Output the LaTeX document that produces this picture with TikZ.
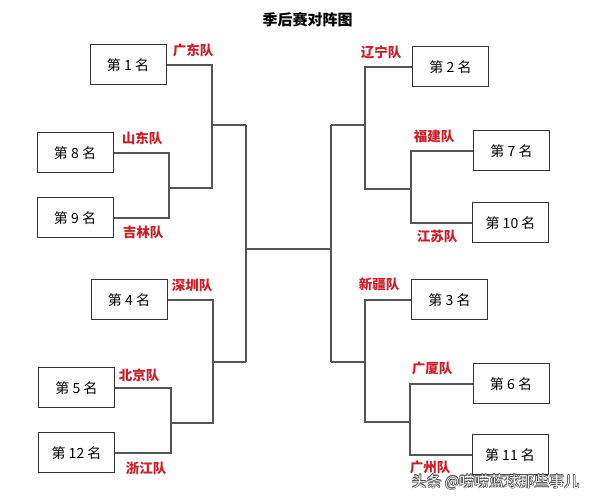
\documentclass[tikz,border=0pt]{standalone}
\usepackage{fontspec}
\setmainfont{Noto Sans CJK SC}
\definecolor{teamred}{RGB}{205,30,40}
\definecolor{linegray}{RGB}{85,85,85}
\definecolor{boxline}{RGB}{50,50,50}
\newcommand\wmtxt{头条 @唠唠蓝球那些事儿}
\newcommand\wmcopy[2]{\rlap{\kern#1pt\raisebox{#2pt}{\textcolor{black!70}{\wmtxt}}}}
\tikzset{
  rankbox/.style={draw=boxline, line width=1pt, fill=white, minimum width=76pt, minimum height=40pt, inner sep=0pt, font=\fontsize{14}{16}\selectfont},
  team/.style={text=teamred, font=\bfseries\fontsize{13.5}{15}\selectfont, inner sep=0pt},
  conn/.style={draw=linegray, line width=1.2pt},
  wm/.style={font=\fontsize{15}{17}\selectfont, inner sep=0pt}
}
\begin{document}
\begin{tikzpicture}[x=1pt,y=-1pt]
\useasboundingbox (0,0) rectangle (592,502);
% title
\node[font=\bfseries\fontsize{15}{17}\selectfont, inner sep=0pt] (title) at (307.5,20) {季后赛对阵图};
% boxes left
\node[rankbox] (b1) at (128,65) {第 1 名};
\node[rankbox] (b8) at (75,153) {第 8 名};
\node[rankbox] (b9) at (75,218) {第 9 名};
\node[rankbox] (b4) at (129,300) {第 4 名};
\node[rankbox] (b5) at (76.5,388) {第 5 名};
\node[rankbox] (b12) at (76.5,453) {第 12 名};
% boxes right
\node[rankbox] (b2) at (450.5,67) {第 2 名};
\node[rankbox] (b7) at (511.5,151) {第 7 名};
\node[rankbox] (b10) at (510.5,223) {第 10 名};
\node[rankbox] (b3) at (449.5,300) {第 3 名};
\node[rankbox] (b6) at (511,384) {第 6 名};
\node[rankbox] (b11) at (510,455) {第 11 名};
% team labels
\node[team] (l1) at (193,50) {广东队};
\node[team] (l8) at (142,138) {山东队};
\node[team] (l9) at (143,232) {吉林队};
\node[team] (l4) at (192,285) {深圳队};
\node[team] (l5) at (139,375) {北京队};
\node[team] (l12) at (146,468) {浙江队};
\node[team] (l2) at (381,52) {辽宁队};
\node[team] (l7) at (434,136) {福建队};
\node[team] (l10) at (437,236) {江苏队};
\node[team] (l3) at (379,284) {新疆队};
\node[team] (l6) at (432,368) {广厦队};
\node[team] (l11) at (430,467) {广州队};
% junction coordinates
\coordinate (m89) at (169,188);
\coordinate (q1) at (212,188);
\coordinate (t1) at (212,125);
\coordinate (m512) at (171,423);
\coordinate (q4) at (213,423);
\coordinate (t4) at (213,362);
\coordinate (La) at (246,125);
\coordinate (Lb) at (246,362);
\coordinate (Lm) at (246,249);
\coordinate (Rm) at (331,249);
\coordinate (Ra) at (331,125);
\coordinate (Rb) at (331,362);
\coordinate (s2) at (365,125);
\coordinate (q2) at (365,189);
\coordinate (m710) at (411,189);
\coordinate (s3) at (365,362);
\coordinate (q3) at (365,422);
\coordinate (m611) at (410,422);
% connectors left
\draw[conn] (b8.east) -| (m89) |- (b9.east);
\draw[conn] (b1.east) -| (q1) -- (m89);
\draw[conn] (t1) -- (La);
\draw[conn] (b5.east) -| (m512) |- (b12.east);
\draw[conn] (b4.east) -| (q4) -- (m512);
\draw[conn] (t4) -- (Lb);
\draw[conn] (La) -- (Lb);
\draw[conn] (Lm) -- (Rm);
% connectors right
\draw[conn] (Ra) -- (Rb);
\draw[conn] (Ra) -- (s2);
\draw[conn] (b2.west) -| (q2) -- (m710);
\draw[conn] (b7.west) -| (m710) |- (b10.west);
\draw[conn] (Rb) -- (s3);
\draw[conn] (b3.west) -| (q3) -- (m611);
\draw[conn] (b6.west) -| (m611) |- (b11.west);
% watermark (outlined text in one node)
\node[wm] (wmark) at (495.5,482) {\wmcopy{-0.6}{0}\wmcopy{0.6}{0}\wmcopy{0}{0.6}\wmcopy{0}{-0.6}\wmcopy{-0.45}{0.45}\wmcopy{0.45}{0.45}\wmcopy{-0.45}{-0.45}\wmcopy{0.45}{-0.45}\textcolor{white}{\wmtxt}};
\end{tikzpicture}
\end{document}
